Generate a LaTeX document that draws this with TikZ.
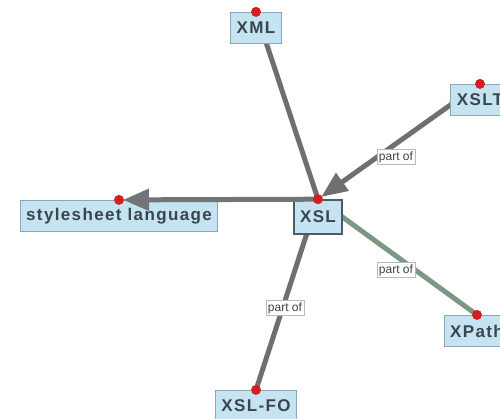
\documentclass[tikz,border=0pt]{standalone}
\usepackage{fontspec}
\setmainfont{Liberation Sans}
\newfontfamily\termfont[LetterSpace=8]{Liberation Sans}
\usetikzlibrary{arrows.meta,backgrounds}
\definecolor{boxfill}{HTML}{C6E3F1}
\definecolor{boxline}{HTML}{86A8BC}
\definecolor{boxtext}{HTML}{3A464E}
\definecolor{edgegray}{HTML}{6F6F6F}
\definecolor{edgegreen}{HTML}{7E9784}
\definecolor{pin}{HTML}{D41E24}
\tikzset{
  term/.style={draw=boxline, line width=1.2pt, fill=boxfill, text=boxtext,
    font=\termfont\fontsize{17}{17}\selectfont\bfseries, minimum height=31pt,
    inner xsep=6pt, anchor=center},
  focus/.style={term, draw=boxline!55!black, line width=1.6pt, minimum height=34pt},
  link/.style={draw=edgegray, line width=5pt},
  arr/.style={-{Triangle[length=26pt,width=21pt]}, shorten >=4pt},
  lbl/.style={draw=gray!55, fill=white, text=black!75, inner sep=2pt,
    font=\fontsize{12}{12}\selectfont},
  dot/.style={circle, fill=pin, inner sep=0pt, minimum size=10pt}
}
\begin{document}
\begin{tikzpicture}[x=1pt, y=-1pt]
\useasboundingbox (0,0) rectangle (500,419);
% terms
\node[term]  (xml)   at (256,28)  {XML};
\node[term]  (xslt)  at (480,100) {XSLT};
\node[term]  (style) at (119,216) {stylesheet language};
\node[focus] (xsl)   at (318,217) {XSL};
\node[term]  (xpath) at (477,331) {XPath};
\node[term]  (xslfo) at (256,406) {XSL-FO};
% connector ends on top of each term
\coordinate (pxml)   at (xml.north);
\coordinate (pxslt)  at (xslt.north);
\coordinate (pstyle) at (style.north);
\coordinate (pxsl)   at (xsl.north);
\coordinate (pxpath) at (xpath.north);
\coordinate (pxslfo) at (xslfo.north);
% connectors run beneath the boxes
\begin{scope}[on background layer]
\draw[link] (pxml) -- (pxsl);
\draw[link, arr] (pxslt) -- (pxsl);
\draw[link, draw=edgegreen] (pxsl) -- (pxpath);
\draw[link] (pxsl) -- (pxslfo);
\end{scope}
% this arrow lies along the top edge of its target, so its head stays visible
\draw[link, arr, draw=edgegray!90!boxline] (pxsl) -- (pstyle);
% relation labels
\node[lbl] (l1) at (396,157) {part of};
\node[lbl] (l2) at (396,270) {part of};
\node[lbl] (l3) at (285,308) {part of};
% pins
\foreach \p in {pxml,pxslt,pstyle,pxsl,pxpath,pxslfo}
  \node[dot] at (\p) {};
\end{tikzpicture}
\end{document}
